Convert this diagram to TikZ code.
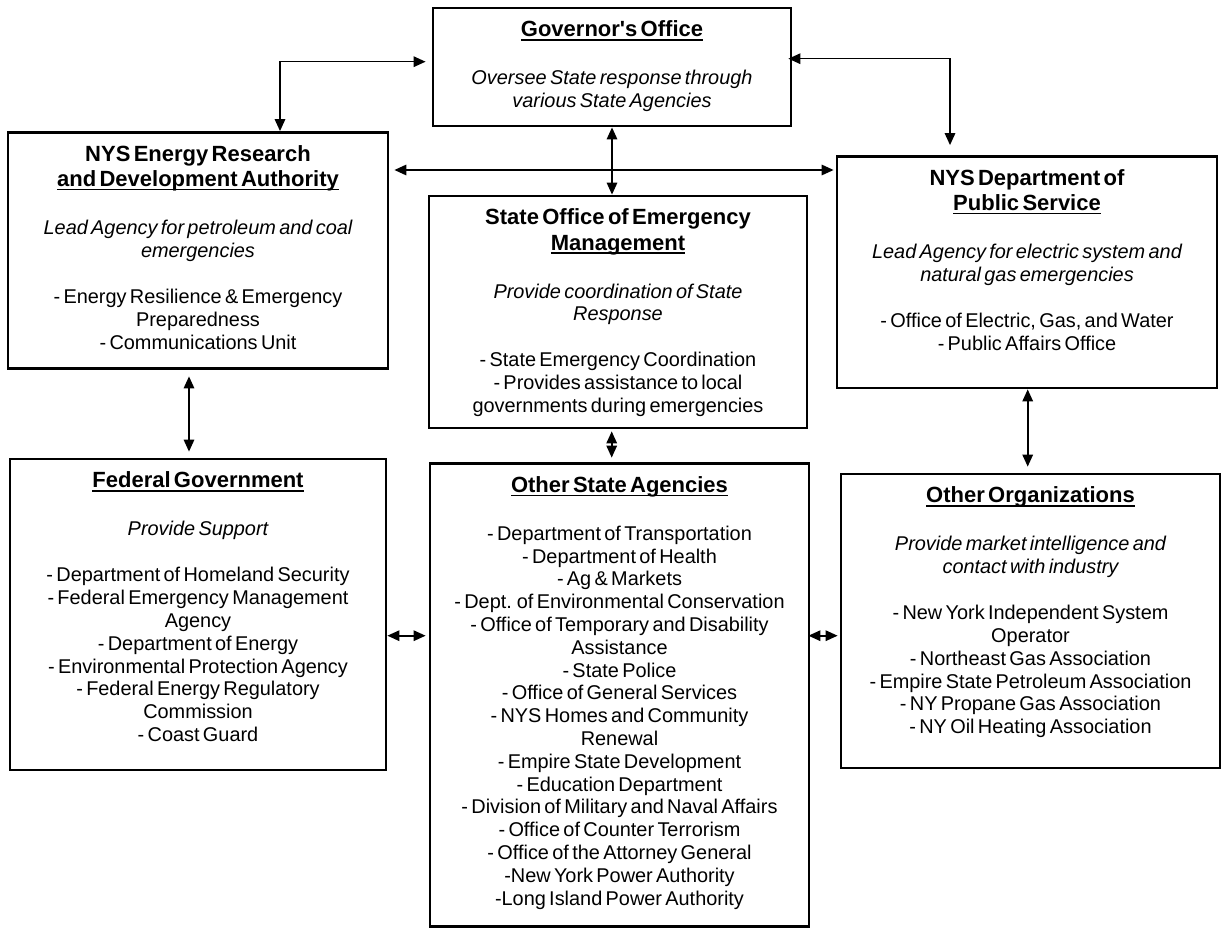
\documentclass[tikz,border=0pt]{standalone}
\usepackage{fontspec}
\setmainfont{Liberation Sans}[Ligatures=TeXOff,WordSpace=1.3]
\usetikzlibrary{arrows.meta}
\newcommand\tfnt{\fontsize{22}{25.3}\selectfont\bfseries}
\newcommand\bfnt{\fontsize{19.9}{22.8}\selectfont\mdseries\upshape}
\newcommand\ifnt{\fontsize{19.9}{22.8}\selectfont\mdseries\itshape}
\newcommand\myul[1]{\leavevmode\setbox0\hbox{#1}\rlap{\rule[-3.9pt]{\wd0}{1.6pt}}\box0}
\newcommand\gapA{\par\vskip25.3pt}
\newcommand\gapB{\par\vskip23.2pt}
\begin{document}
\begin{tikzpicture}[x=1pt,y=-1pt,
  box/.style={draw, line width=2.8pt, rectangle, inner sep=0pt},
  txt/.style={anchor=north, align=center, inner sep=0pt, execute at begin node={\setlength{\parindent}{0pt}}},
  link/.style={line width=1.6pt, {Triangle[length=12pt,width=10.5pt]}-{Triangle[length=12pt,width=10.5pt]}}]
\useasboundingbox (0,0) rectangle (1222,928);
\fill[white] (0,0) rectangle (1222,928);

% boxes
\node[box, minimum width=358pt, minimum height=118pt] (gov) at (612,67) {};
\node[box, minimum width=380pt, minimum height=236pt] (nys) at (198,250.5) {};
\node[box, minimum width=378pt, minimum height=232pt] (oem) at (618,312) {};
\node[box, minimum width=380pt, minimum height=231.5pt] (dps) at (1027,272.25) {};
\node[box, minimum width=376pt, minimum height=311pt] (fed) at (198,614.5) {};
\node[box, minimum width=379pt, minimum height=463pt] (osa) at (619.5,695) {};
\node[box, minimum width=379pt, minimum height=294pt] (oorg) at (1030.5,621) {};

% texts
\node[txt, text width=350pt] (govT) at ([yshift=-14pt]gov.north)
  {\tfnt\myul{Governor's Office}\gapA\ifnt Oversee State response through\\various State Agencies\par};
\node[txt, text width=370pt] (nysT) at ([yshift=-14pt]nys.north)
  {\tfnt NYS Energy Research\\\myul{and Development Authority}\gapA\ifnt Lead Agency for petroleum and coal\\emergencies\gapB\bfnt - Energy Resilience \& Emergency\\Preparedness\\- Communications Unit\par};
\node[txt, text width=370pt] (oemT) at ([yshift=-14pt]oem.north)
  {\tfnt State Office of Emergency\\\myul{Management}\gapA\ifnt Provide coordination of State\\Response\gapB\bfnt - State Emergency Coordination\\- Provides assistance to local\\governments during emergencies\par};
\node[txt, text width=370pt] (dpsT) at ([yshift=-14pt]dps.north)
  {\tfnt NYS Department of\\\myul{Public Service}\gapA\ifnt Lead Agency for electric system and\\natural gas emergencies\gapB\bfnt - Office of Electric, Gas, and Water\\- Public Affairs Office\par};
\node[txt, text width=368pt] (fedT) at ([yshift=-14pt]fed.north)
  {\tfnt\myul{Federal Government}\gapA\ifnt Provide Support\gapB\bfnt - Department of Homeland Security\\- Federal Emergency Management\\Agency\\- Department of Energy\\- Environmental Protection Agency\\- Federal Energy Regulatory\\Commission\\- Coast Guard\par};
\node[txt, text width=370pt] (osaT) at ([yshift=-14pt]osa.north)
  {\tfnt\myul{Other State Agencies}\gapA\bfnt - Department of Transportation\\- Department of Health\\- Ag \& Markets\\- Dept. of Environmental Conservation\\- Office of Temporary and Disability\\Assistance\\- State Police\\- Office of General Services\\- NYS Homes and Community\\Renewal\\- Empire State Development\\- Education Department\\- Division of Military and Naval Affairs\\- Office of Counter Terrorism\\- Office of the Attorney General\\-New York Power Authority\\-Long Island Power Authority\par};
\node[txt, text width=370pt] (oorgT) at ([yshift=-14pt]oorg.north)
  {\tfnt\myul{Other Organizations}\gapA\ifnt Provide market intelligence and\\contact with industry\gapB\bfnt - New York Independent System\\Operator\\- Northeast Gas Association\\- Empire State Petroleum Association\\- NY Propane Gas Association\\- NY Oil Heating Association\par};

% helper coordinates
\coordinate (yGovL) at (0,61.7);
\coordinate (xNysV) at (280,0);
\coordinate (yGovR) at (0,58.7);
\coordinate (xDpsV) at (950,0);
\coordinate (yMid) at (0,170);
\coordinate (xFedV) at (189,0);
\coordinate (xOemV) at (611.7,0);
\coordinate (xDpsB) at (1027.7,0);
\coordinate (yLow) at (0,635.7);

% connectors
\draw[link, shorten <=6pt] (gov.west |- yGovL) -| (nys.north -| xNysV);
\draw[link, shorten <=-4pt, shorten >=10pt] (gov.east |- yGovR) -| (dps.north -| xDpsV);
\draw[link, shorten <=5pt, shorten >=2pt] (nys.east |- yMid) -- (dps.west |- yMid);
\draw[link] (gov.south) -- (gov.south |- oem.north);
\draw[link, shorten <=6.5pt, shorten >=6pt] (nys.south -| xFedV) -- (fed.north -| xFedV);
\draw[link, shorten <=2pt, shorten >=4.5pt] (oem.south -| xOemV) -- (osa.north -| xOemV);
\draw[link, shorten >=6pt] (dps.south -| xDpsB) -- (oorg.north -| xDpsB);
\draw[link, shorten >=3pt] (fed.east |- yLow) -- (osa.west |- yLow);
\draw[link, shorten <=-2pt, shorten >=2pt] (osa.east |- yLow) -- (oorg.west |- yLow);
\end{tikzpicture}
\end{document}
